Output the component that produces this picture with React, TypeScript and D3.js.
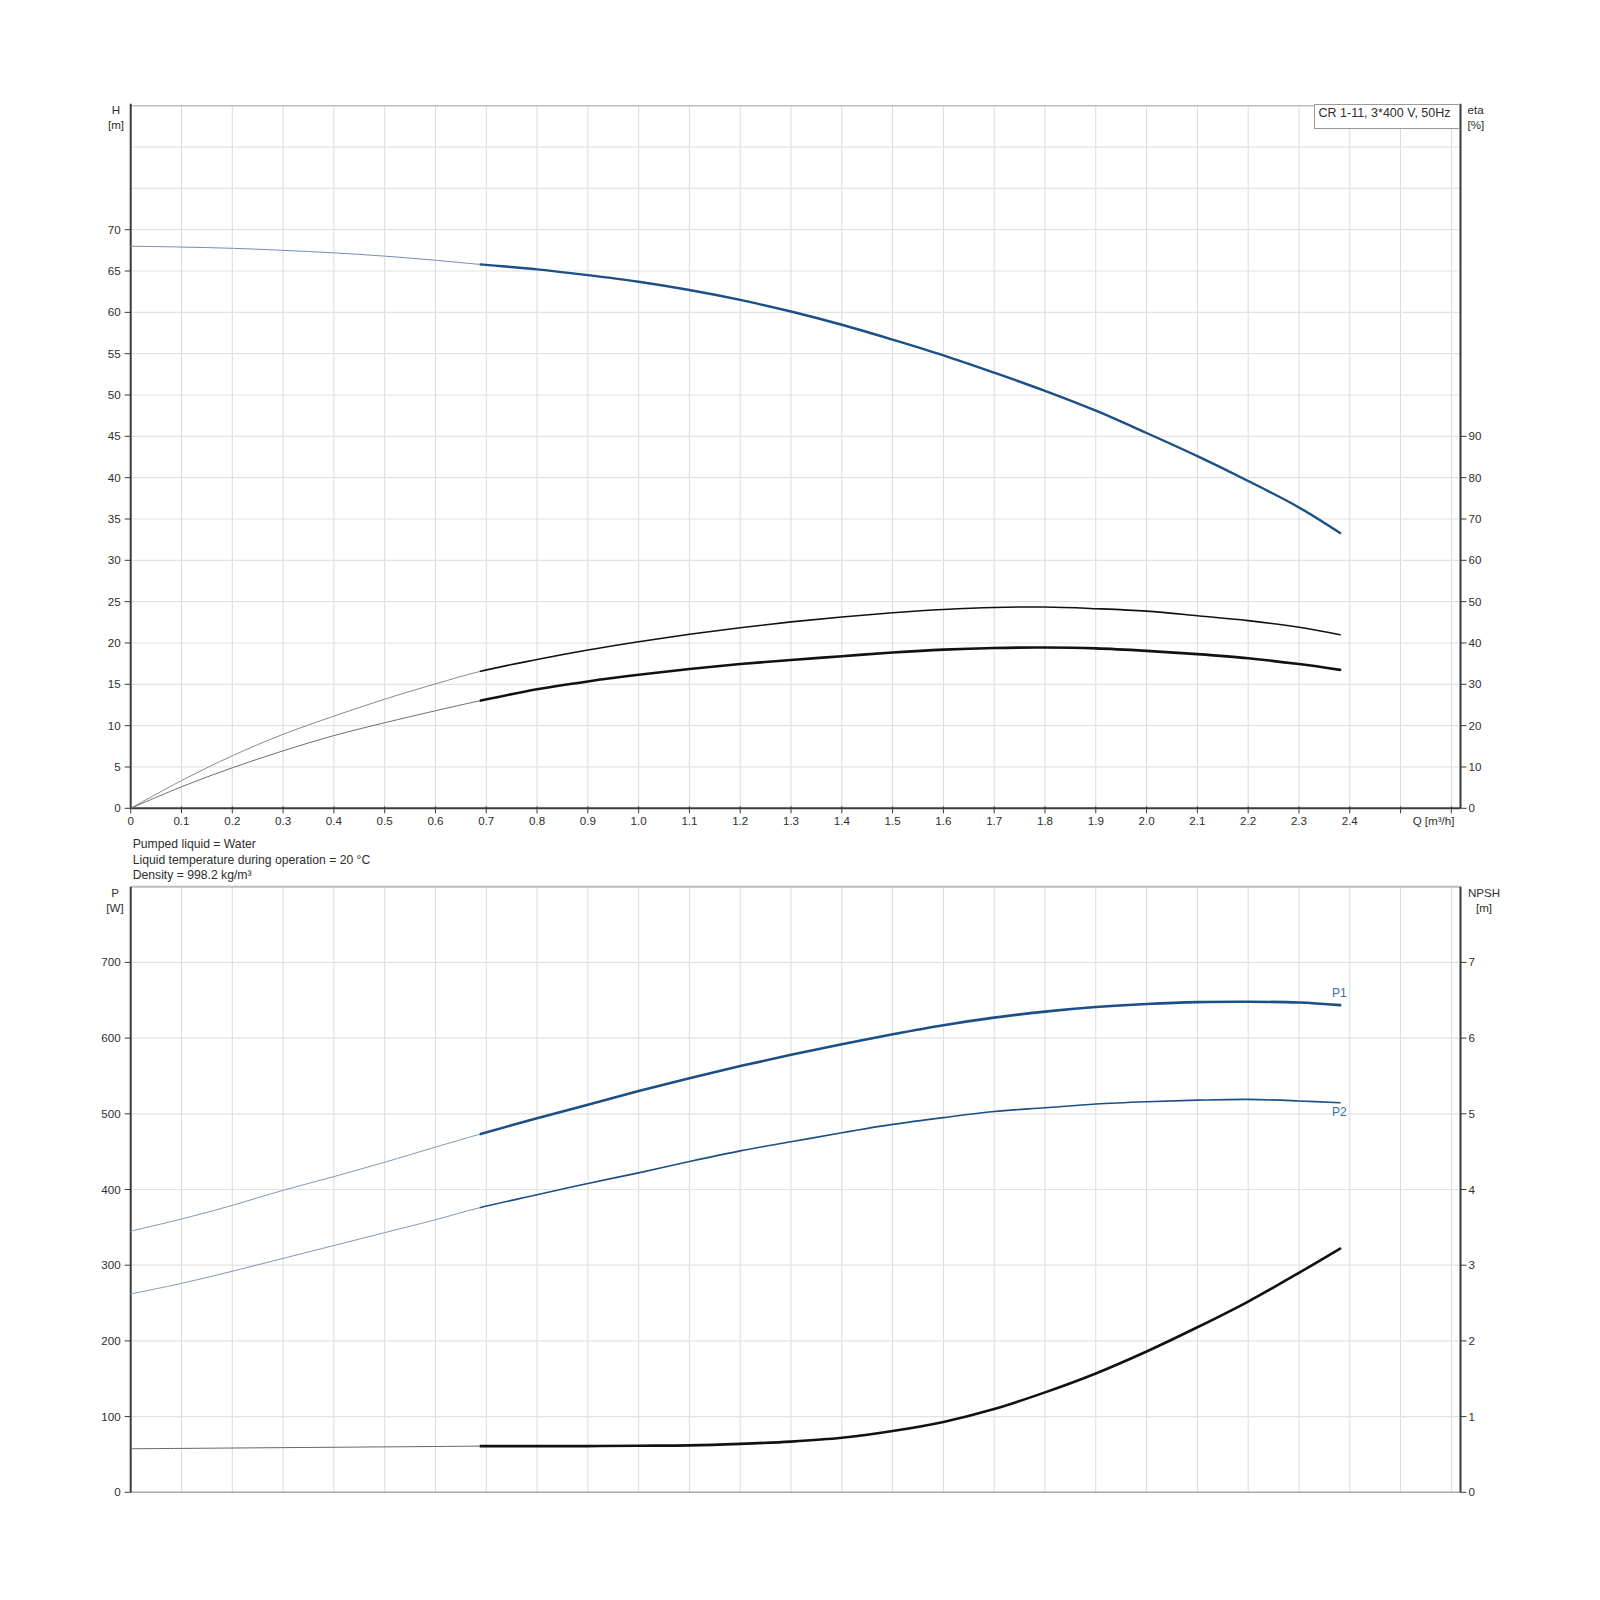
import React from 'react';
import * as d3 from 'd3';

// Flow rate sample points [m³/h]; the duty range starts at 0.687
const flowQ = [0, 0.1, 0.2, 0.3, 0.4, 0.5, 0.6, 0.687, 0.8, 0.9, 1.0, 1.1, 1.2, 1.3, 1.4, 1.5, 1.6, 1.7, 1.8, 1.9, 2.0, 2.1, 2.2, 2.3, 2.381];
const dutyStartQ = 0.687;

const headH = [68.0, 67.9, 67.75, 67.5, 67.2, 66.8, 66.3, 65.8, 65.2, 64.5, 63.7, 62.7, 61.5, 60.1, 58.5, 56.7, 54.8, 52.7, 50.5, 48.1, 45.4, 42.6, 39.6, 36.4, 33.3];
const etaPump = [0, 6.7, 12.7, 17.9, 22.3, 26.4, 30.1, 33.1, 36.0, 38.3, 40.3, 42.1, 43.7, 45.1, 46.3, 47.3, 48.1, 48.6, 48.7, 48.3, 47.7, 46.6, 45.4, 43.8, 42.0];
const etaTotal = [0, 5.2, 9.8, 13.9, 17.6, 20.7, 23.6, 26.0, 28.8, 30.7, 32.3, 33.7, 34.9, 35.9, 36.8, 37.7, 38.4, 38.8, 38.9, 38.7, 38.1, 37.3, 36.3, 34.9, 33.5];
const powerP1 = [345, 361, 379, 399, 417, 436, 456, 473, 494, 512, 530, 547, 563, 578, 592, 605, 617, 627, 635, 641, 645, 647.5, 648, 647, 643.6];
const powerP2 = [262, 276, 292, 309, 326, 343, 360, 376, 393, 408, 422, 437, 451, 463, 475, 486, 495, 503, 508, 513, 516, 518, 519, 517, 514.5];
const npshR = [0.575, 0.58, 0.585, 0.59, 0.595, 0.6, 0.605, 0.61, 0.61, 0.61, 0.615, 0.62, 0.64, 0.67, 0.72, 0.81, 0.93, 1.1, 1.32, 1.57, 1.86, 2.18, 2.52, 2.9, 3.22];

const qTicks = d3.range(0, 27).map(i => i / 10);
const qLabelMax = 2.4;
const hTicks = [0, 5, 10, 15, 20, 25, 30, 35, 40, 45, 50, 55, 60, 65, 70];
const etaTicks = [0, 10, 20, 30, 40, 50, 60, 70, 80, 90];
const pTicks = [0, 100, 200, 300, 400, 500, 600, 700];
const npshTicks = [0, 1, 2, 3, 4, 5, 6, 7];

const infoLines = ['Pumped liquid = Water', 'Liquid temperature during operation = 20 °C', 'Density = 998.2 kg/m³'];
const legendText = 'CR 1-11, 3*400 V, 50Hz';

const FONT = '"Liberation Sans", Arial, sans-serif';
const BLUE = '#1b4f86';
const TXT = '#2e2e2e';
const AXIS = '#3a3a3a';
const GRID = '#dadada';
const FS = 11.6;

const L = 130.7;
const R = 1460.5;
const topT = 105.7, topB = 808.3;
const botT = 886.7, botB = 1492.3;

const x = d3.scaleLinear().domain([0, 2.618]).range([L, R]);
const yH = d3.scaleLinear().domain([0, 85]).range([topB, topT]);
const yEta = d3.scaleLinear().domain([0, 170]).range([topB, topT]);
const yP = d3.scaleLinear().domain([0, 800]).range([botB, botT]);
const yN = d3.scaleLinear().domain([0, 8]).range([botB, botT]);

type Pt = [number, number];

function Curve({ vals, y, color, thinColor, width }: { vals: number[]; y: d3.ScaleLinear<number, number>; color: string; thinColor: string; width: number }) {
  const pts: Pt[] = flowQ.map((q, i) => [q, vals[i]]);
  const gen = d3.line<Pt>().x(d => x(d[0])).y(d => y(d[1])).curve(d3.curveCatmullRom.alpha(0.5));
  // draw whole curve once, then clip into the extrapolated part and duty part
  const d = gen(pts) || '';
  const cut = x(dutyStartQ);
  const id = 'c' + Math.round(vals[vals.length - 1] * 100) + Math.round(width * 10);
  return (
    <g fill="none" strokeLinecap="round">
      <defs>
        <clipPath id={id + 'a'}><rect x={0} y={0} width={cut} height={1600} /></clipPath>
        <clipPath id={id + 'b'}><rect x={cut} y={0} width={1600 - cut} height={1600} /></clipPath>
      </defs>
      <path d={d} stroke={thinColor} strokeWidth={1} clipPath={`url(#${id}a)`} />
      <path d={d} stroke={color} strokeWidth={width} clipPath={`url(#${id}b)`} />
    </g>
  );
}

function Grid({ top, bottom, yScale, hLines }: { top: number; bottom: number; yScale: d3.ScaleLinear<number, number>; hLines: number[] }) {
  return (
    <g>
      {qTicks.slice(1).map(q => (
        <line key={'v' + q} x1={x(q)} x2={x(q)} y1={top} y2={bottom} stroke={GRID} strokeWidth={1} />
      ))}
      {hLines.map(v => (
        <line key={'h' + v} x1={L} x2={R} y1={yScale(v)} y2={yScale(v)} stroke="#e3e3e3" strokeWidth={1.2} />
      ))}
    </g>
  );
}

function LeftAxis({ ticks, y }: { ticks: number[]; y: d3.ScaleLinear<number, number> }) {
  return (
    <g>
      {ticks.map(t => (
        <g key={t}>
          <line x1={L - 6} x2={L} y1={y(t)} y2={y(t)} stroke={AXIS} strokeWidth={1} />
          <text x={L - 10} y={y(t)} dy="0.35em" textAnchor="end" fontSize={FS} fill={TXT}>{t}</text>
        </g>
      ))}
    </g>
  );
}

function RightAxis({ ticks, y }: { ticks: number[]; y: d3.ScaleLinear<number, number> }) {
  return (
    <g>
      {ticks.map(t => (
        <g key={t}>
          <line x1={R} x2={R + 6} y1={y(t)} y2={y(t)} stroke={AXIS} strokeWidth={1} />
          <text x={R + 8} y={y(t)} dy="0.35em" textAnchor="start" fontSize={FS} fill={TXT}>{t}</text>
        </g>
      ))}
    </g>
  );
}

export default function App() {
  return (
    <div style={{ position: 'absolute', left: 0, top: 0, width: 1600, height: 1600, background: '#fff' }}>
      <svg width={1600} height={1600} style={{ fontFamily: FONT, display: 'block' }}>
        <rect width={1600} height={1600} fill="#fff" />

        {/* ---------- top chart: head & efficiency ---------- */}
        <Grid top={topT} bottom={topB} yScale={yH} hLines={d3.range(5, 85, 5)} />
        <line x1={L} x2={R} y1={topT} y2={topT} stroke="#bdbdbd" strokeWidth={1.5} />
        <line x1={L} x2={L} y1={topT - 2} y2={topB} stroke={AXIS} strokeWidth={2} />
        <line x1={R} x2={R} y1={topT - 2} y2={topB} stroke={AXIS} strokeWidth={2} />
        <line x1={L} x2={R} y1={topB} y2={topB} stroke={AXIS} strokeWidth={2} />

        <Curve vals={etaPump} y={yEta} color="#111" thinColor="#8a8a8a" width={1.6} />
        <Curve vals={etaTotal} y={yEta} color="#111" thinColor="#6f6f6f" width={2.6} />
        <Curve vals={headH} y={yH} color={BLUE} thinColor="#6f8fb3" width={2.4} />

        <LeftAxis ticks={hTicks} y={yH} />
        <RightAxis ticks={etaTicks} y={yEta} />
        {qTicks.map(q => (
          <g key={'xt' + q}>
            <line x1={x(q)} x2={x(q)} y1={topB - 2} y2={topB + 5} stroke={AXIS} strokeWidth={1} />
            {q <= qLabelMax + 1e-9 && (
              <text x={x(q)} y={topB + 16.5} textAnchor="middle" fontSize={FS} fill={TXT}>{q === 0 ? '0' : q.toFixed(1)}</text>
            )}
          </g>
        ))}
        <text x={R - 6} y={topB + 16.5} textAnchor="end" fontSize={FS} fill={TXT}>Q [m³/h]</text>

        <text x={116} y={114} textAnchor="middle" fontSize={FS} fill={TXT}>H</text>
        <text x={116} y={129} textAnchor="middle" fontSize={FS} fill={TXT}>[m]</text>
        <text x={R + 7} y={114} textAnchor="start" fontSize={FS} fill={TXT}>eta</text>
        <text x={R + 7} y={129} textAnchor="start" fontSize={FS} fill={TXT}>[%]</text>

        <rect x={1314.5} y={104.5} width={R - 1314.5 - 1} height={24} fill="#fff" stroke="#9a9a9a" strokeWidth={1} />
        <text x={1318.5} y={116.7} fontSize={12.5} fill={TXT}>{legendText}</text>

        {infoLines.map((t, i) => (
          <text key={t} x={132.7} y={848 + i * 15.5} fontSize={12.2} fill={TXT}>{t}</text>
        ))}

        {/* ---------- bottom chart: power & NPSH ---------- */}
        <Grid top={botT} bottom={botB} yScale={yP} hLines={d3.range(100, 800, 100)} />
        <line x1={L} x2={R} y1={botT} y2={botT} stroke="#bdbdbd" strokeWidth={2} />
        <line x1={L} x2={R} y1={botB} y2={botB} stroke="#a8a8a8" strokeWidth={1.5} />
        <line x1={L} x2={L} y1={botT} y2={botB} stroke={AXIS} strokeWidth={2} />
        <line x1={R} x2={R} y1={botT} y2={botB} stroke={AXIS} strokeWidth={2} />

        <Curve vals={powerP1} y={yP} color={BLUE} thinColor="#7d99bb" width={2.6} />
        <Curve vals={powerP2} y={yP} color={BLUE} thinColor="#7d99bb" width={1.6} />
        <Curve vals={npshR} y={yN} color="#111" thinColor="#666" width={2.6} />

        <text x={1332} y={yP(powerP1[powerP1.length - 1]) - 8} fontSize={12} fill="#3a6da8">P1</text>
        <text x={1332} y={yP(powerP2[powerP2.length - 1]) + 13} fontSize={12} fill="#3a6da8">P2</text>

        <LeftAxis ticks={pTicks} y={yP} />
        <RightAxis ticks={npshTicks} y={yN} />

        <text x={115} y={897} textAnchor="middle" fontSize={FS} fill={TXT}>P</text>
        <text x={115} y={912} textAnchor="middle" fontSize={FS} fill={TXT}>[W]</text>
        <text x={1484} y={897} textAnchor="middle" fontSize={FS} fill={TXT}>NPSH</text>
        <text x={1484} y={912} textAnchor="middle" fontSize={FS} fill={TXT}>[m]</text>
      </svg>
    </div>
  );
}
